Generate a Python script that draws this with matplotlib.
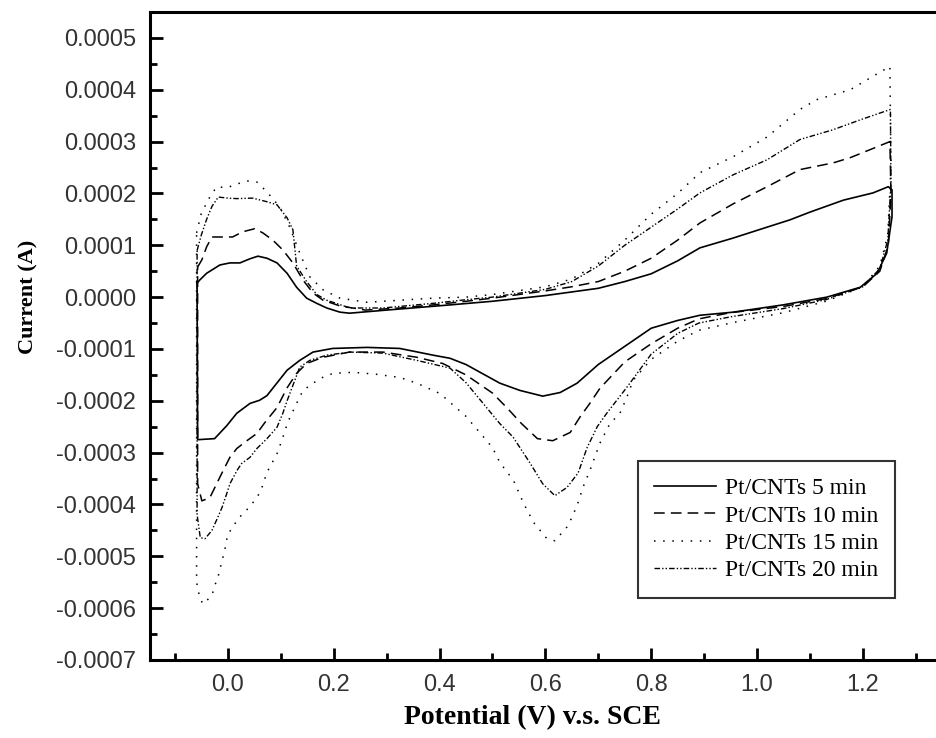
import matplotlib
matplotlib.use("Agg")
from matplotlib import pyplot as plt
from matplotlib.ticker import MultipleLocator, FuncFormatter
import numpy as np

plt.rcParams['axes.unicode_minus'] = False

# potential (V) and current (1e-4 A), one closed loop per sample
v5 = [-0.058, -0.053, -0.040, -0.015, 0.004, 0.023, 0.042, 0.057, 0.074, 0.093, 0.112, 0.130, 0.149, 0.168,
      0.187, 0.212, 0.23, 0.30, 0.42, 0.50, 0.60, 0.65, 0.70, 0.75, 0.80, 0.85, 0.892, 0.955, 1.019, 1.062,
      1.100, 1.163, 1.219, 1.248,
      1.255, 1.255, 1.245, 1.227, 1.195, 1.132, 1.049, 0.955, 0.892, 0.85, 0.80, 0.75, 0.70, 0.66, 0.628,
      0.595, 0.552, 0.514, 0.45, 0.420, 0.388, 0.325, 0.263, 0.198, 0.161, 0.136, 0.112, 0.074, 0.060, 0.042,
      0.017, -0.002, -0.025, -0.057, -0.058]
i5 = [0.27, 0.33, 0.46, 0.62, 0.66, 0.66, 0.74, 0.79, 0.75, 0.66, 0.46, 0.19, -0.02, -0.12,
      -0.21, -0.29, -0.31, -0.25, -0.15, -0.08, 0.03, 0.10, 0.17, 0.30, 0.45, 0.70, 0.95, 1.14, 1.35, 1.49,
      1.64, 1.87, 2.01, 2.13,
      2.07, 1.55, 0.85, 0.46, 0.19, 0.0, -0.15, -0.29, -0.35, -0.45, -0.60, -0.95, -1.30, -1.66, -1.84,
      -1.91, -1.80, -1.66, -1.30, -1.18, -1.12, -0.99, -0.97, -0.99, -1.06, -1.22, -1.41, -1.90, -1.99, -2.05,
      -2.24, -2.48, -2.73, -2.75, 0.27]

v10 = [-0.057, -0.049, -0.040, -0.030, -0.009, 0.009, 0.028, 0.051, 0.066, 0.085, 0.104, 0.123, 0.142, 0.161,
       0.180, 0.212, 0.26, 0.325, 0.388, 0.45, 0.50, 0.60, 0.65, 0.70, 0.75, 0.80, 0.85, 0.892, 0.955, 1.019,
       1.081, 1.144, 1.176, 1.227, 1.251,
       1.253, 1.248, 1.232, 1.20, 1.13, 1.05, 0.95, 0.89, 0.85, 0.80, 0.75, 0.703, 0.684, 0.665, 0.647, 0.614,
       0.585, 0.555, 0.527, 0.50, 0.45, 0.406, 0.357, 0.293, 0.23, 0.180, 0.149, 0.130, 0.112, 0.093, 0.070,
       0.055, 0.036, 0.017, 0.004, -0.009, -0.021, -0.034, -0.049, -0.057, -0.057]
i10 = [0.58, 0.72, 0.97, 1.16, 1.16, 1.16, 1.26, 1.32, 1.24, 1.10, 0.91, 0.66, 0.33, 0.08,
       -0.06, -0.17, -0.25, -0.21, -0.15, -0.08, -0.02, 0.12, 0.20, 0.30, 0.50, 0.75, 1.10, 1.43, 1.80, 2.13,
       2.46, 2.59, 2.69, 2.90, 3.00,
       2.0, 1.0, 0.5, 0.2, -0.03, -0.18, -0.30, -0.42, -0.60, -0.90, -1.25, -1.76, -2.05, -2.32, -2.61, -2.77,
       -2.73, -2.44, -2.13, -1.85, -1.50, -1.28, -1.16, -1.06, -1.06, -1.16, -1.28, -1.47, -1.75, -2.13, -2.42,
       -2.63, -2.77, -2.92, -3.09, -3.35, -3.60, -3.87, -3.93, -3.6, 0.58]

v15 = [-0.059, -0.050, -0.034, -0.021, -0.002, 0.023, 0.038, 0.055, 0.074, 0.098, 0.117, 0.136, 0.155, 0.180,
       0.212, 0.263, 0.325, 0.388, 0.45, 0.50, 0.60, 0.65, 0.70, 0.75, 0.80, 0.85, 0.892, 0.955, 1.019, 1.081,
       1.113, 1.176, 1.219, 1.251,
       1.253, 1.247, 1.232, 1.20, 1.13, 1.05, 0.95, 0.89, 0.85, 0.80, 0.766, 0.754, 0.741, 0.722, 0.703, 0.684,
       0.671, 0.66, 0.643, 0.618, 0.603, 0.578, 0.559, 0.540, 0.514, 0.50, 0.45, 0.401, 0.357, 0.325, 0.282,
       0.237, 0.199, 0.174, 0.142, 0.130, 0.113, 0.104, 0.093, 0.083, 0.074, 0.064, 0.055, 0.038, 0.028, 0.017,
       0.009, 0.0, -0.006, -0.011, -0.019, -0.025, -0.030, -0.047, -0.053, -0.059, -0.059]
i15 = [1.24, 1.62, 1.93, 2.13, 2.11, 2.20, 2.24, 2.22, 2.03, 1.74, 1.35, 0.85, 0.39, 0.14,
       -0.02, -0.10, -0.06, -0.02, 0.0, 0.05, 0.20, 0.35, 0.65, 1.10, 1.60, 2.00, 2.40, 2.71, 3.09, 3.62,
       3.81, 4.00, 4.26, 4.45,
       2.5, 1.2, 0.6, 0.2, -0.08, -0.30, -0.50, -0.64, -0.85, -1.20, -1.60, -1.93, -2.24, -2.44, -2.82, -3.35,
       -3.67, -4.02, -4.41, -4.70, -4.66, -4.35, -3.98, -3.54, -3.19, -2.90, -2.30, -1.86, -1.66, -1.55, -1.49,
       -1.45, -1.47, -1.57, -1.80, -2.05, -2.42, -2.71, -3.02, -3.21, -3.38, -3.69, -3.87, -4.08, -4.18, -4.31,
       -4.45, -4.57, -4.89, -5.09, -5.42, -5.57, -5.76, -5.92, -5.80, -5.50, 1.24]

v20 = [-0.058, -0.050, -0.040, -0.030, -0.018, 0.0, 0.017, 0.047, 0.074, 0.093, 0.112, 0.123, 0.130, 0.149,
       0.168, 0.187, 0.231, 0.293, 0.388, 0.45, 0.50, 0.60, 0.65, 0.70, 0.75, 0.80, 0.85, 0.892, 0.955, 1.019,
       1.081, 1.144, 1.195, 1.252,
       1.253, 1.247, 1.232, 1.20, 1.13, 1.05, 0.95, 0.89, 0.85, 0.80, 0.754, 0.735, 0.716, 0.698, 0.679, 0.662,
       0.641, 0.618, 0.595, 0.571, 0.539, 0.514, 0.45, 0.420, 0.357, 0.293, 0.231, 0.187, 0.155, 0.136, 0.112,
       0.104, 0.093, 0.074, 0.055, 0.042, 0.026, 0.017, 0.004, -0.002, -0.011, -0.019, -0.030, -0.043, -0.052,
       -0.058, -0.058]
i20 = [0.9, 1.2, 1.5, 1.75, 1.93, 1.91, 1.90, 1.91, 1.84, 1.78, 1.53, 1.30, 0.6, 0.3,
       0.05, -0.06, -0.21, -0.21, -0.12, -0.05, 0.0, 0.15, 0.30, 0.60, 1.00, 1.35, 1.70, 2.01, 2.36, 2.65,
       3.04, 3.23, 3.42, 3.62,
       2.2, 1.1, 0.55, 0.2, -0.05, -0.22, -0.38, -0.50, -0.70, -1.10, -1.74, -1.99, -2.24, -2.50, -2.90, -3.39,
       -3.67, -3.83, -3.60, -3.20, -2.70, -2.44, -1.65, -1.37, -1.22, -1.08, -1.06, -1.12, -1.22, -1.35, -2.0,
       -2.24, -2.51, -2.73, -2.92, -3.09, -3.21, -3.35, -3.60, -3.79, -4.06, -4.25, -4.50, -4.66, -4.64,
       -4.2, 0.9]

labels = ["Pt/CNTs 5 min", "Pt/CNTs 10 min", "Pt/CNTs 15 min", "Pt/CNTs 20 min"]

fig = plt.figure(figsize=(9.37, 7.38), dpi=100)
ax = fig.add_axes([150 / 937, 1 - 660 / 738, 1 - 150 / 937, (660 - 12) / 738])

ax.plot(v5, np.array(i5) * 1e-4, color='black', lw=1.2, label=labels[0])
ax.plot(v10, np.array(i10) * 1e-4, color='black', lw=1.1, dashes=(7, 4), label=labels[1])
ax.plot(v15, np.array(i15) * 1e-4, color='black', lw=1.1, dashes=(1, 5), label=labels[2])
ax.plot(v20, np.array(i20) * 1e-4, color='black', lw=1.0, dashes=(4, 1.5, 1, 1.5, 1, 1.5), label=labels[3])

ax.set_xlim(-0.147, 1.34)
ax.set_ylim(-0.0007, 0.00055)

ax.xaxis.set_major_locator(MultipleLocator(0.2))
ax.xaxis.set_minor_locator(MultipleLocator(0.1))
ax.yaxis.set_major_locator(MultipleLocator(0.0001))
ax.yaxis.set_minor_locator(MultipleLocator(0.00005))
ax.xaxis.set_major_formatter(FuncFormatter(lambda v, p: "%.1f" % (0.0 if abs(v) < 1e-9 else v)))
ax.yaxis.set_major_formatter(FuncFormatter(lambda v, p: "%.4f" % (0.0 if abs(v) < 1e-9 else v)))

ax.tick_params(which='both', direction='in', width=2, top=False, right=False,
               labelsize=17, labelcolor='#333333', pad=10)
ax.tick_params(which='major', length=9)
ax.tick_params(which='minor', length=5)
for lab in ax.get_xticklabels() + ax.get_yticklabels():
    lab.set_fontfamily('Liberation Sans')

for s in ['left', 'bottom', 'top']:
    ax.spines[s].set_linewidth(2.2)
ax.spines['right'].set_visible(False)

fig.text(532 / 937, 1 - 718 / 738, "Potential (V) v.s. SCE", family='Liberation Serif',
         fontsize=20, ha='center', va='center', fontweight='bold')
fig.text(28 / 937, 1 - 297 / 738, "Current (A)", family='Liberation Serif',
         fontsize=16, ha='center', va='center', rotation=90, fontweight='bold')

leg = ax.legend(loc='lower right', bbox_to_anchor=((895 - 150) / 787, (660 - 598) / 648),
                borderaxespad=0, frameon=True, fancybox=False, edgecolor='black',
                prop={'family': 'Liberation Serif', 'size': 17}, handlelength=2.6,
                handletextpad=0.4, labelspacing=0.25, borderpad=0.7)
leg.get_frame().set_linewidth(1.5)

fig.savefig("out.png", dpi=100)
